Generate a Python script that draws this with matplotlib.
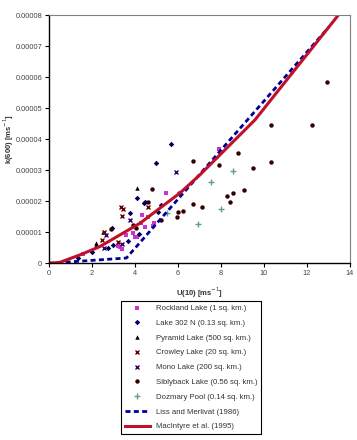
import numpy as np
import matplotlib
matplotlib.use('Agg')
import matplotlib.pyplot as plt
from matplotlib.ticker import FuncFormatter

plt.rcParams['font.family'] = ['Liberation Sans', 'DejaVu Sans']

# wind speed U(10) [m/s] and k(600) [x1e-5 m/s]
rockland_u = [1.57, 3.30, 3.40, 3.20, 3.58, 4.00, 3.89, 4.07, 4.31, 4.62, 4.47, 4.85, 4.90, 4.30, 5.43, 7.91]
rockland_k = [0.30, 0.52, 0.45, 0.55, 0.91, 0.86, 0.97, 0.86, 1.56, 1.48, 1.18, 1.20, 1.30, 1.30, 2.28, 3.68]

lake302_u = [5.67, 4.98, 4.11, 4.47, 4.40, 3.79, 3.69, 2.92, 2.98, 1.36, 1.98, 2.76, 4.20, 5.19, 5.09]
lake302_k = [3.84, 3.23, 2.10, 1.99, 1.93, 1.63, 0.73, 1.13, 0.60, 0.18, 0.35, 0.48, 0.95, 1.88, 1.66]

pyramid_u = [4.11, 2.19, 2.20, 2.50]
pyramid_k = [2.42, 0.66, 0.59, 1.00]

crowley_u = [3.35, 3.44, 3.38, 2.57, 4.62, 2.45, 3.22]
crowley_k = [1.81, 1.76, 1.53, 1.02, 1.83, 0.75, 0.70]

mono_u = [5.89, 3.77, 2.65, 2.57, 3.40]
mono_k = [2.94, 1.40, 0.91, 0.48, 0.62]

sibly_u = [6.68, 4.78, 4.60, 10.31, 8.81, 7.91, 10.31, 9.50, 9.09, 8.57, 8.29, 8.42, 7.10, 6.71,
           6.06, 6.00, 6.22, 5.97, 5.19, 12.91, 12.22, 3.89, 4.05, 2.90]
sibly_k = [3.28, 2.39, 1.99, 4.47, 3.55, 3.17, 3.25, 3.08, 2.36, 2.26, 2.18, 1.97, 1.83, 1.91,
           2.26, 1.66, 1.70, 1.50, 1.40, 5.83, 4.46, 1.24, 1.13, 1.10]

dozmary_u = [8.57, 7.52, 8.00, 6.92, 5.50]
dozmary_k = [2.96, 2.61, 1.74, 1.27, 1.61]

# model curves
liss_u = [0.0, 3.6, 13.0]
liss_k = [0.0, 0.17, 7.60]

macintyre_u = [0.0, 0.5, 1.44, 2.37, 4.23, 6.10, 7.02, 9.58, 13.53]
macintyre_k = [0.0, 0.03, 0.27, 0.54, 1.29, 2.27, 2.85, 4.62, 8.06]

sc = 1e-5

fig = plt.figure(figsize=(3.57, 4.4), dpi=100)
ax = fig.add_axes([49/357, 1-263.3/440, (350-49)/357, (263.3-15)/440])

ms = 3.2
ax.plot(np.array(rockland_u), np.array(rockland_k)*sc, 's', color='#CC33CC', ms=ms, mew=0,
        label='Rockland Lake (1 sq. km.)')
ax.plot(np.array(lake302_u), np.array(lake302_k)*sc, 'D', color='#000066', ms=2.8, mew=0,
        label='Lake 302 N (0.13 sq. km.)')
ax.plot(np.array(pyramid_u), np.array(pyramid_k)*sc, '^', color='#000000', ms=ms, mew=0,
        label='Pyramid Lake (500 sq. km.)')
ax.plot(np.array(crowley_u), np.array(crowley_k)*sc, 'x', color='#660000', ms=ms, mew=1,
        label='Crowley Lake (20 sq. km.)')
ax.plot(np.array(mono_u), np.array(mono_k)*sc, 'x', color='#330066', ms=ms, mew=1,
        label='Mono Lake (200 sq. km.)')
ax.plot(np.array(sibly_u), np.array(sibly_k)*sc, 'o', color='#330000', ms=ms, mew=0,
        label='Siblyback Lake (0.56 sq. km.)')
ax.plot(np.array(dozmary_u), np.array(dozmary_k)*sc, '+', color='#669999', ms=4, mew=1,
        label='Dozmary Pool (0.14 sq. km.)')
ax.plot(np.array(liss_u), np.array(liss_k)*sc, color='#000099', lw=2, dashes=(1.8, 1.2),
        label='Liss and Merlivat (1986)')
ax.plot(np.array(macintyre_u), np.array(macintyre_k)*sc, color='#C0102A', lw=2.2,
        label='MacIntyre et al. (1995)')

ax.set_xlim(0, 14)
ax.set_ylim(0, 8e-5)
ax.set_xticks(np.arange(0, 15, 2))
ax.set_yticks(np.arange(0, 9e-5, 1e-5))
ax.yaxis.set_major_formatter(FuncFormatter(lambda v, p: '0' if v == 0 else '%.5f' % v))

ax.tick_params(labelsize=5.3, labelcolor='#444444', length=3, width=0.8, direction='out', pad=2)
ax.spines['left'].set_color('black')
ax.spines['bottom'].set_color('black')
ax.spines['left'].set_linewidth(1)
ax.spines['bottom'].set_linewidth(1)
ax.spines['top'].set_color('#808080')
ax.spines['right'].set_color('#808080')

ax.set_xlabel('U(10) [ms$^{-1}$]', fontsize=5.5, fontweight='bold', color='#333333')
ax.set_ylabel('k(600) [ms$^{-1}$]', fontsize=5.5, fontweight='bold', color='#333333')
ax.xaxis.set_label_coords(0.5, -0.09)
ax.yaxis.set_label_coords(-0.11, 0.5)

leg = fig.legend(loc='upper left', bbox_to_anchor=(117/357, 1-297/440), fontsize=5.6,
                 frameon=True, fancybox=False, edgecolor='black', framealpha=1,
                 handlelength=3.2, handletextpad=0.8, labelspacing=0.94, borderpad=0.5)
leg.get_frame().set_linewidth(0.8)
for t in leg.get_texts():
    t.set_color('#333333')

fig.savefig('out.png', dpi=100)
